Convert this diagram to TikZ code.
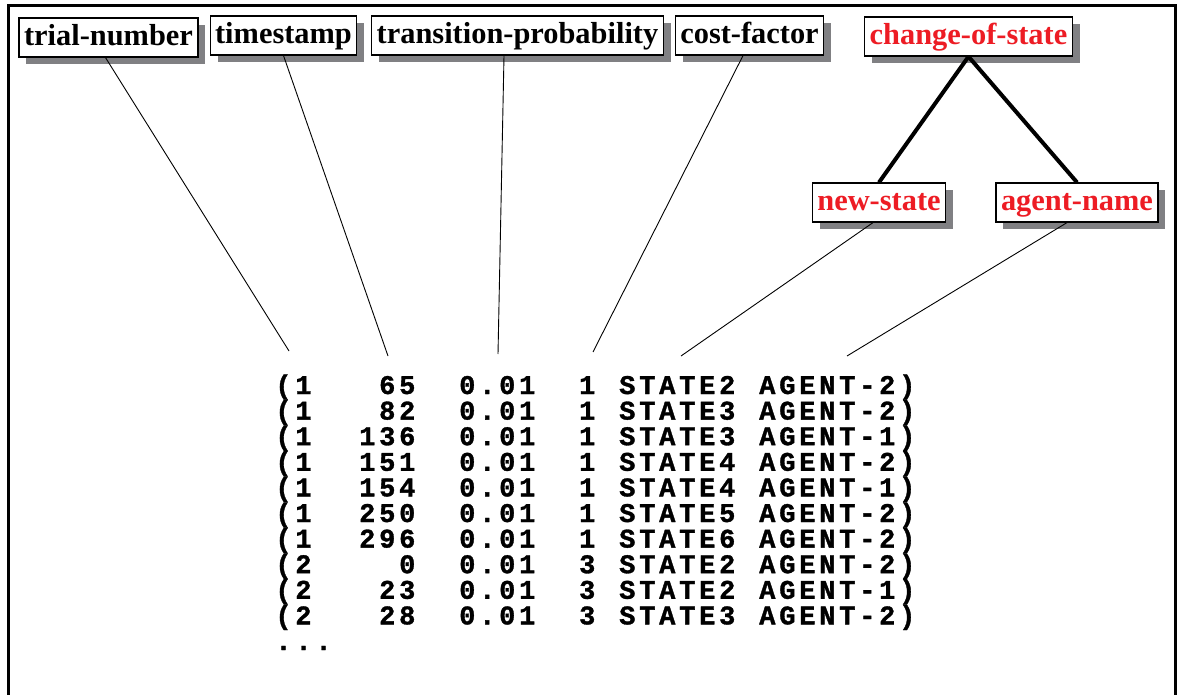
\documentclass[tikz,border=0pt]{standalone}
\usepackage{fontspec}
\setmainfont{Liberation Serif}
\newfontfamily\datafont[LetterSpace=14, BoldFeatures={FakeBold=1.2}]{Liberation Mono}
\usepackage{xcolor}
\usepackage{tikz}
\usetikzlibrary{shadows}
\definecolor{fieldred}{RGB}{237,28,36}
\definecolor{shadowgray}{RGB}{128,128,131}
\newcommand{\datarow}[6]{\makebox[20pt][l]{(#1}\makebox[50pt][r]{#2}\makebox[60pt][r]{#3}\makebox[30pt][r]{#4}\makebox[70pt][r]{#5}\makebox[90pt][r]{#6)}}
\tikzset{
  fieldbox/.style={draw, line width=0.6pt, fill=white, font=\fontsize{15.2}{18}\selectfont\bfseries,
    inner xsep=2.5pt, inner ysep=2.6pt, text height=11pt, text depth=3.3pt,
    drop shadow={shadow xshift=3.7pt, shadow yshift=-3.7pt, fill=shadowgray, opacity=1}},
  redfield/.style={fieldbox, text=fieldred},
  leader/.style={line width=0.45pt},
  treeline/.style={line width=2pt},
  outline/.style={line width=1.5pt},
  datarow/.style={anchor=base west, inner sep=0pt, font=\datafont\fontsize{13.5}{15}\selectfont\bfseries}
}

\begin{document}
\begin{tikzpicture}[x=0.5pt, y=-0.5pt]
\useasboundingbox (0,0) rectangle (1178,695);
\draw[outline] (8,695) -- (8,6) -- (1175,6) -- (1175,695);

\node[fieldbox] (tn) at (108.5,37.5) {trial-number};
\node[fieldbox] (ts) at (283.5,35.5) {timestamp};
\node[fieldbox] (tp) at (517.5,35.5) {transition-probability};
\node[fieldbox] (cf) at (749.5,35.5) {cost-factor};
\node[redfield] (cos) at (968.5,36.5) {change-of-state};
\node[redfield] (ns) at (879,202.5) {new-state};
\node[redfield] (an) at (1077,202.5) {agent-name};

\draw[treeline] (cos.south) -- (ns.north);
\draw[treeline] (cos.south) -- (an.north);

\foreach \tr/\tm/\pr/\cst/\st/\ag [count=\i from 0] in
  {1/65/0.01/1/STATE2/AGENT-2, 1/82/0.01/1/STATE3/AGENT-2,
   1/136/0.01/1/STATE3/AGENT-1, 1/151/0.01/1/STATE4/AGENT-2,
   1/154/0.01/1/STATE4/AGENT-1, 1/250/0.01/1/STATE5/AGENT-2,
   1/296/0.01/1/STATE6/AGENT-2, 2/0/0.01/3/STATE2/AGENT-2,
   2/23/0.01/3/STATE2/AGENT-1, 2/28/0.01/3/STATE3/AGENT-2}
  \node[datarow] (row\i) at (275,{394+25.6*\i}) {\datarow{\tr}{\tm}{\pr}{\cst}{\st}{\ag}};
\node[datarow] (more) at (275,650) {...};

\coordinate (tn-end) at (289,351);
\coordinate (ts-end) at (388,356);
\coordinate (tp-end) at (498,354);
\coordinate (cf-end) at (593,352);
\coordinate (ns-end) at (681,356);
\coordinate (an-end) at (847,356);
\draw[leader] ([xshift=-1.5pt]tn.south) -- (tn-end);
\draw[leader] (ts.south) -- (ts-end);
\draw[leader] ([xshift=-6.75pt]tp.south) -- (tp-end);
\draw[leader] ([xshift=-3.25pt]cf.south) -- (cf-end);
\draw[leader] ([xshift=-3pt]ns.south) -- (ns-end);
\draw[leader] ([xshift=-5pt]an.south) -- (an-end);
\end{tikzpicture}
\end{document}
